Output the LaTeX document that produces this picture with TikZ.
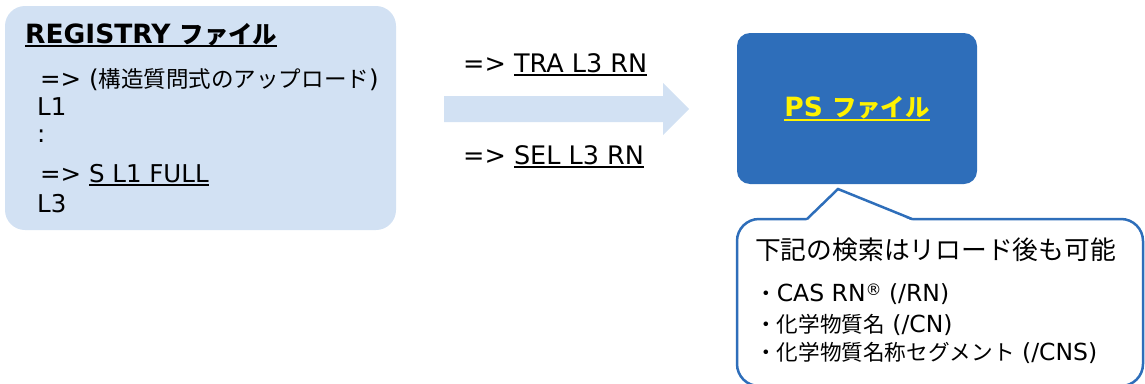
\documentclass[tikz,border=0pt]{standalone}
\usepackage{fontspec}
\setmainfont{DejaVu Sans}
\newfontfamily\jpfont[Scale=0.92]{Noto Sans CJK JP}
\usepackage{tikz}
\usetikzlibrary{positioning}
\definecolor{paleblue}{RGB}{210,225,243}
\definecolor{psblue}{RGB}{46,110,186}
\newcommand{\undl}[1]{\setbox0\hbox{#1}\rlap{\rule[-4pt]{\wd0}{2pt}}\box0}

\begin{document}
\begin{tikzpicture}[x=1pt, y=-1pt]
\tikzstyle{txt}=[anchor=base west, inner sep = 0 pt, font=\fontsize{24.5}{28}\selectfont]
\tikzstyle{big}=[font=\fontsize{25.5}{30}\selectfont]
\tikzstyle{lst}=[font=\fontsize{23.5}{28}\selectfont]
\tikzset{blk/.style={inner sep = 0 pt, fill=paleblue, rounded corners=20pt}}
\useasboundingbox (0,0) rectangle (1145,383);
\node[blk, minimum width=391pt, minimum height=224pt] (reg) at (200.5,118) {};
\node[txt, font=\fontsize{26.5}{30}\selectfont\bfseries] (regtitle) at (25,43) {\undl{REGISTRY {\jpfont ファイル}}};
\node[txt] (upl) at (40,87) {=> ({\jpfont 構造質問式のアップロード})};
\node[txt] (lone) at (37,115) {L1};
\node[txt] (dots) at (37,142) {:};
\node[txt] (srch) at (40,182) {=> \undl{S L1 FULL}};
\node[txt] (lthree) at (37,212) {L3};
% block arrow
\coordinate (tail) at (444,109);
\coordinate (tip) at (689,109);
\fill[paleblue] (tail) ++(0,-13) -- ++(219,0) -- ++(0,-13) -- (tip) -- ++(-26,26) -- ++(0,-13) -- ++(-219,0) -- cycle;
\node[txt, big] (tra) at (463,72) {=> \undl{TRA L3 RN}};
\node[txt, big] (sel) at (463,164) {=> \undl{SEL L3 RN}};
\node[fill=psblue, rounded corners=13pt, minimum width=240pt, minimum height=151pt, text=yellow, font=\fontsize{26.5}{30}\selectfont\bfseries] (ps) at (857,108.5) {\undl{PS {\jpfont ファイル}}};
% callout
\draw[psblue, line width=2.5pt, fill=white, rounded corners=22pt] (737,219) rectangle (1143,386);
\fill[white] (806,221) -- (838,189.5) -- (913,221) -- cycle;
\draw[psblue, line width=2.5pt] (807,219) -- (838,189) -- (912,219);
\node[txt, font=\fontsize{28}{32}\selectfont] (note) at (755,259) {\jpfont 下記の検索はリロード後も可能};
\node[txt, lst] (rn) at (755,301) {{\jpfont ・}CAS RN{\fontsize{16}{16}\selectfont\raisebox{6pt}{®}} (/RN)};
\node[txt, lst] (cn) at (755,332) {{\jpfont ・化学物質名} (/CN)};
\node[txt, lst] (cns) at (755,360) {{\jpfont ・化学物質名称セグメント} (/CNS)};
\end{tikzpicture}
\end{document}
